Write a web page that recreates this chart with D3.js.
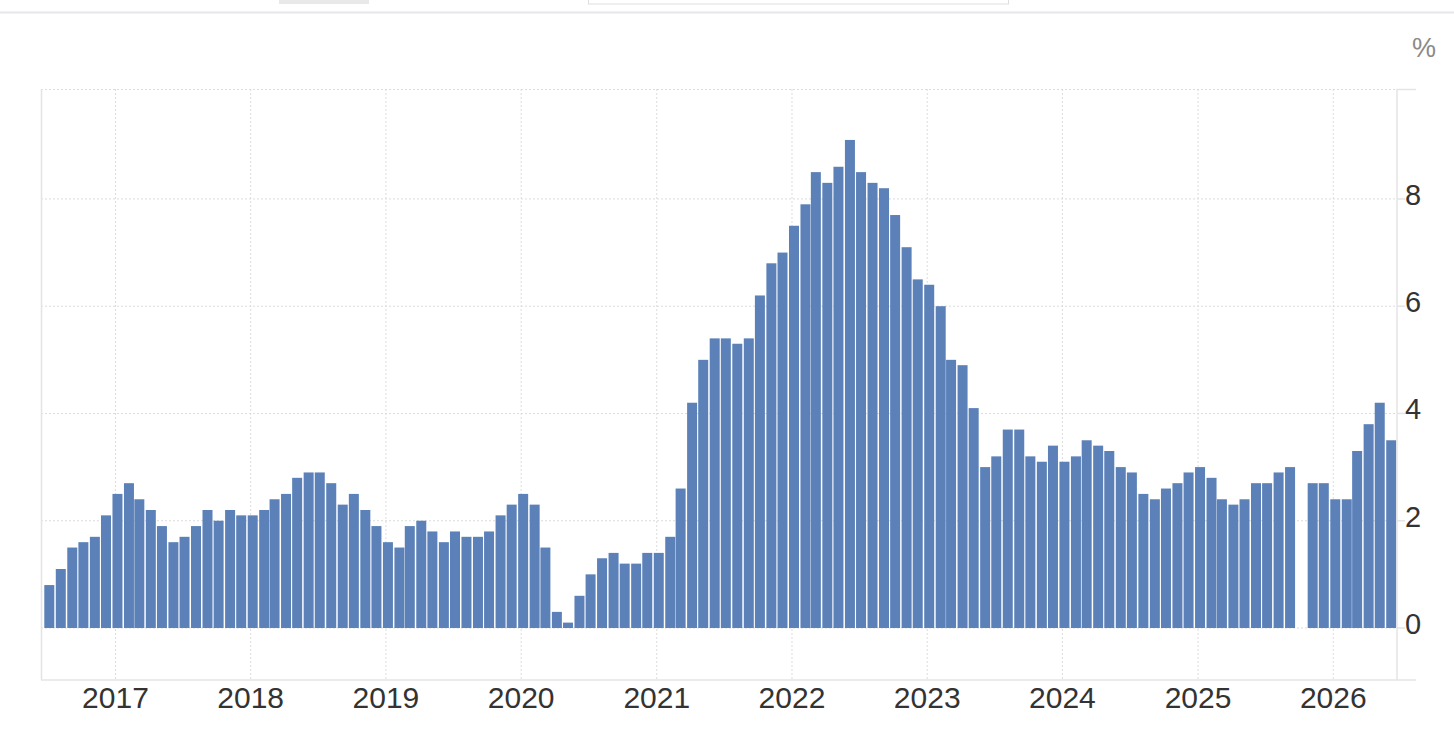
<!DOCTYPE html>
<html>
<head>
<meta charset="utf-8">
<script src="https://cdn.jsdelivr.net/npm/d3@7"></script>
<style>
  html, body { margin: 0; padding: 0; background: #fff; }
  svg { display: block; font-family: "Liberation Sans", Arial, Helvetica, sans-serif; }
</style>
</head>
<body>
<div id="chart"></div>
<script>
// monthly values, Jul 2016 .. Jun 2026 (null = no release)
const startMonth = [2016, 6]; // year, month index (0 = Jan)
const values2016 = [0.8, 1.1, 1.5, 1.6, 1.7, 2.1];
const values2017 = [2.5, 2.7, 2.4, 2.2, 1.9, 1.6, 1.7, 1.9, 2.2, 2.0, 2.2, 2.1];
const values2018 = [2.1, 2.2, 2.4, 2.5, 2.8, 2.9, 2.9, 2.7, 2.3, 2.5, 2.2, 1.9];
const values2019 = [1.6, 1.5, 1.9, 2.0, 1.8, 1.6, 1.8, 1.7, 1.7, 1.8, 2.1, 2.3];
const values2020 = [2.5, 2.3, 1.5, 0.3, 0.1, 0.6, 1.0, 1.3, 1.4, 1.2, 1.2, 1.4];
const values2021 = [1.4, 1.7, 2.6, 4.2, 5.0, 5.4, 5.4, 5.3, 5.4, 6.2, 6.8, 7.0];
const values2022 = [7.5, 7.9, 8.5, 8.3, 8.6, 9.1, 8.5, 8.3, 8.2, 7.7, 7.1, 6.5];
const values2023 = [6.4, 6.0, 5.0, 4.9, 4.1, 3.0, 3.2, 3.7, 3.7, 3.2, 3.1, 3.4];
const values2024 = [3.1, 3.2, 3.5, 3.4, 3.3, 3.0, 2.9, 2.5, 2.4, 2.6, 2.7, 2.9];
const values2025 = [3.0, 2.8, 2.4, 2.3, 2.4, 2.7, 2.7, 2.9, 3.0, null, 2.7, 2.7];
const values2026 = [2.4, 2.4, 3.3, 3.8, 4.2, 3.5];

const yearTicks = [2017, 2018, 2019, 2020, 2021, 2022, 2023, 2024, 2025, 2026];
const yTicks = [0, 2, 4, 6, 8];
const unitLabel = "%";

const allValues = [].concat(values2016, values2017, values2018, values2019, values2020,
    values2021, values2022, values2023, values2024, values2025, values2026);
const data = allValues.map((v, i) => ({
    date: new Date(startMonth[0], startMonth[1] + i, 1),
    value: v
})).filter(d => d.value !== null);

const W = 1454, H = 730;
const plot = {left: 41, right: 1397, top: 89, bottom: 680};
const barW = 10;
const barColor = "#5b81b8";
const gridColor = "#dcdcdc";
const axisColor = "#e4e4e4";

const svg = d3.select("#chart").append("svg")
    .attr("width", W)
    .attr("height", H);

// page header remnants
svg.append("rect").attr("x", 279).attr("y", 0).attr("width", 90).attr("height", 4).attr("fill", "#e9e9e9");
svg.append("rect").attr("x", 588.5).attr("y", -10).attr("width", 420).attr("height", 14)
    .attr("fill", "#fff").attr("stroke", "#dedede");
svg.append("line").attr("x1", 0).attr("x2", W).attr("y1", 12.5).attr("y2", 12.5)
    .attr("stroke", "#e6e6ec").attr("stroke-width", 2);

const xScale = d3.scaleTime()
    .domain([new Date(2016, 5, 14), new Date(2026, 5, 22)])
    .range([plot.left, plot.right]);
const yScale = d3.scaleLinear()
    .domain([-0.97, 10.05])
    .range([plot.bottom, plot.top]);

const g = svg.append("g");

// horizontal dotted grid
g.selectAll(".hgrid")
    .data(yTicks)
    .join("line")
    .attr("class", "hgrid")
    .attr("x1", plot.left).attr("x2", plot.right)
    .attr("y1", d => yScale(d)).attr("y2", d => yScale(d))
    .attr("stroke", gridColor).attr("stroke-dasharray", "2,2");
g.append("line")
    .attr("x1", plot.left).attr("x2", plot.right)
    .attr("y1", plot.top + 0.5).attr("y2", plot.top + 0.5)
    .attr("stroke", gridColor).attr("stroke-dasharray", "2,2");

// vertical dotted grid at each year
g.selectAll(".vgrid")
    .data(yearTicks)
    .join("line")
    .attr("class", "vgrid")
    .attr("x1", d => xScale(new Date(d, 0, 1))).attr("x2", d => xScale(new Date(d, 0, 1)))
    .attr("y1", plot.top).attr("y2", plot.bottom)
    .attr("stroke", gridColor).attr("stroke-dasharray", "2,2");

// bars
g.selectAll(".bar")
    .data(data)
    .join("rect")
    .attr("class", "bar")
    .attr("x", d => xScale(d.date) - 3)
    .attr("width", barW)
    .attr("y", d => yScale(Math.max(0, d.value)))
    .attr("height", d => Math.abs(yScale(d.value) - yScale(0)))
    .attr("fill", barColor);

// frame: left border, bottom axis, right axis
g.append("line")
    .attr("x1", plot.left + 0.5).attr("x2", plot.left + 0.5)
    .attr("y1", plot.top).attr("y2", plot.bottom)
    .attr("stroke", axisColor).attr("stroke-width", 1.5);
g.append("line")
    .attr("x1", plot.left).attr("x2", 1416)
    .attr("y1", plot.bottom).attr("y2", plot.bottom)
    .attr("stroke", axisColor).attr("stroke-width", 1.5);
g.append("line")
    .attr("x1", plot.right).attr("x2", plot.right)
    .attr("y1", plot.top).attr("y2", plot.bottom)
    .attr("stroke", axisColor).attr("stroke-width", 1.5);
g.append("line")
    .attr("x1", plot.right).attr("x2", 1416)
    .attr("y1", plot.top + 0.5).attr("y2", plot.top + 0.5)
    .attr("stroke", axisColor).attr("stroke-width", 1.5);
g.selectAll(".ytick")
    .data(yTicks)
    .join("line")
    .attr("class", "ytick")
    .attr("x1", plot.right).attr("x2", plot.right + 8)
    .attr("y1", d => yScale(d)).attr("y2", d => yScale(d))
    .attr("stroke", axisColor).attr("stroke-width", 1.5);

// y labels on the right
g.selectAll(".ylabel")
    .data(yTicks)
    .join("text")
    .attr("class", "ylabel")
    .attr("x", 1405)
    .attr("y", d => yScale(d) + 6)
    .attr("font-size", 29)
    .attr("fill", "#333")
    .text(d => d);

svg.append("text")
    .attr("x", 1436).attr("y", 57)
    .attr("text-anchor", "end")
    .attr("font-size", 27)
    .attr("fill", "#8a8a8a")
    .text(unitLabel);

// year labels
g.selectAll(".xlabel")
    .data(yearTicks)
    .join("text")
    .attr("class", "xlabel")
    .attr("x", d => xScale(new Date(d, 0, 1)))
    .attr("y", 708)
    .attr("text-anchor", "middle")
    .attr("font-size", 30)
    .attr("fill", "#333")
    .text(d => d);
</script>
</body>
</html>
